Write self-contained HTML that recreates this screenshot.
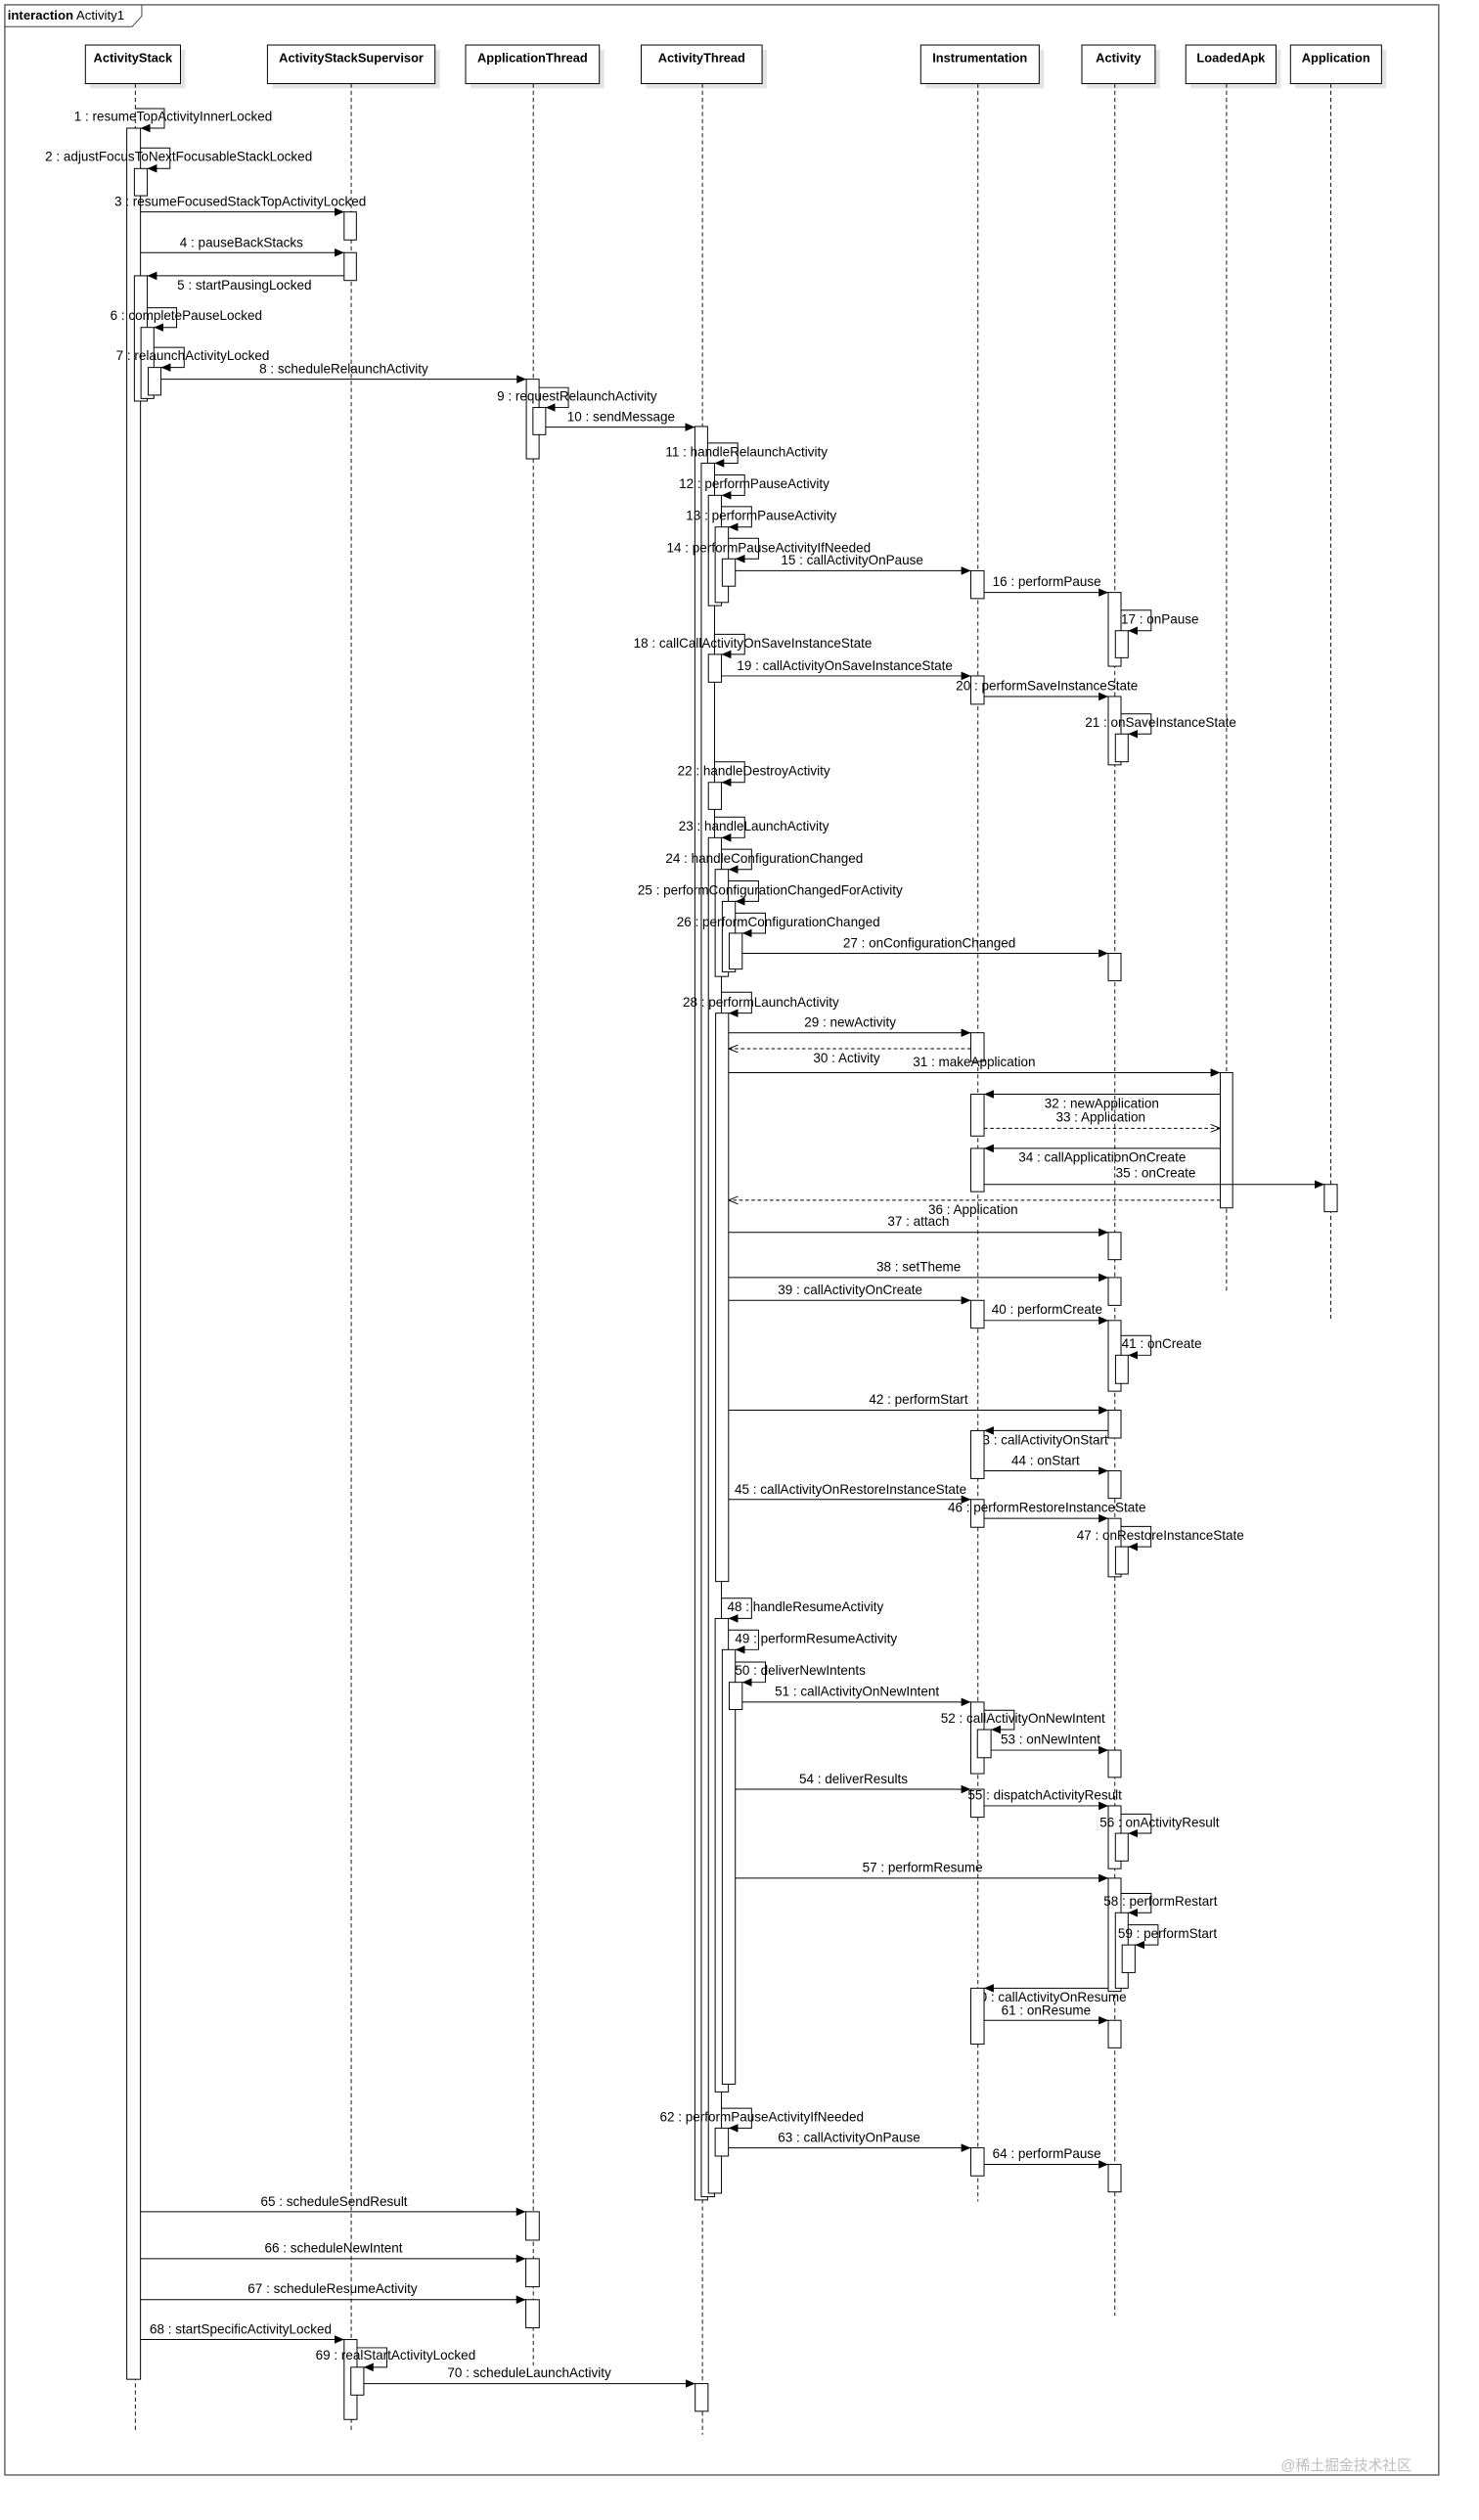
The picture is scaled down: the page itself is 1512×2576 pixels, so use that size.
<!DOCTYPE html>
<html><head><meta charset="utf-8"><style>
html,body{margin:0;padding:0;background:#fff}
svg{display:block}
text{font-family:"Liberation Sans",Arial,sans-serif;font-size:8.2px;fill:#000}
.h{font-weight:bold;font-size:7.8px}
.b{fill:#fff;stroke:#000;stroke-width:0.6}
.ll{stroke:#000;stroke-width:0.55;stroke-dasharray:2.6,1.8;fill:none}
.m{stroke:#000;stroke-width:0.6;fill:none;marker-end:url(#f)}
.r{stroke:#000;stroke-width:0.6;fill:none;stroke-dasharray:2.2,1.6;marker-end:url(#o)}
.sh{fill:#e4e4e4}
</style></head><body>
<svg width="1512" height="2576" viewBox="0 0 918 1567" preserveAspectRatio="none" xmlns="http://www.w3.org/2000/svg">
<defs>
<marker id="f" markerWidth="6" markerHeight="6" refX="6" refY="3" orient="auto" markerUnits="userSpaceOnUse"><path d="M0,0.4 L6,3 L0,5.6 z" fill="#000"/></marker>
<marker id="o" markerWidth="6" markerHeight="6" refX="6" refY="3" orient="auto" markerUnits="userSpaceOnUse"><path d="M0,0.6 L6,3 L0,5.4" fill="none" stroke="#000" stroke-width="0.6"/></marker>
</defs>
<rect x="0" y="0" width="918" height="1567" fill="#fff"/>
<rect x="3" y="3" width="890" height="1536" fill="none" stroke="#666" stroke-width="0.9"/>
<path d="M3,16.6 H82 L88,10 V3" fill="none" stroke="#444" stroke-width="0.6"/>
<text x="4.7" y="12.2" style="font-size:8px"><tspan font-weight="bold">interaction</tspan> Activity1</text>

<g>
<rect class="sh" x="56" y="31" width="59" height="24"/><rect class="b" x="53" y="28" width="59" height="24"/>
<rect class="sh" x="169" y="31" width="104" height="24"/><rect class="b" x="166" y="28" width="104" height="24"/>
<rect class="sh" x="292" y="31" width="83" height="24"/><rect class="b" x="289" y="28" width="83" height="24"/>
<rect class="sh" x="401" y="31" width="75" height="24"/><rect class="b" x="398" y="28" width="75" height="24"/>
<rect class="sh" x="574.5" y="31" width="73.5" height="24"/><rect class="b" x="571.5" y="28" width="73.5" height="24"/>
<rect class="sh" x="674.5" y="31" width="45.5" height="24"/><rect class="b" x="671.5" y="28" width="45.5" height="24"/>
<rect class="sh" x="739" y="31" width="56" height="24"/><rect class="b" x="736" y="28" width="56" height="24"/>
<rect class="sh" x="804" y="31" width="56.5" height="24"/><rect class="b" x="801" y="28" width="56.5" height="24"/>
<text class="h" x="82.5" y="38.5" text-anchor="middle">ActivityStack</text>
<text class="h" x="218" y="38.5" text-anchor="middle">ActivityStackSupervisor</text>
<text class="h" x="330.5" y="38.5" text-anchor="middle">ApplicationThread</text>
<text class="h" x="435.5" y="38.5" text-anchor="middle">ActivityThread</text>
<text class="h" x="608.2" y="38.5" text-anchor="middle">Instrumentation</text>
<text class="h" x="694.2" y="38.5" text-anchor="middle">Activity</text>
<text class="h" x="764" y="38.5" text-anchor="middle">LoadedApk</text>
<text class="h" x="829.2" y="38.5" text-anchor="middle">Application</text>
</g>

<line class="ll" x1="84" y1="52" x2="84" y2="1511.6"/>
<line class="ll" x1="218" y1="52" x2="218" y2="1511.6"/>
<line class="ll" x1="331" y1="52" x2="331" y2="1471"/>
<line class="ll" x1="436" y1="52" x2="436" y2="1514"/>
<line class="ll" x1="607" y1="52" x2="607" y2="1369"/>
<line class="ll" x1="692" y1="52" x2="692" y2="1440"/>
<line class="ll" x1="761.3" y1="52" x2="761.3" y2="804"/>
<line class="ll" x1="826" y1="52" x2="826" y2="820"/>

<text x="605.3" y="898.3">43 : callActivityOnStart</text>
<text x="603.6" y="1244.5">60 : callActivityOnResume</text>

<g class="b">
<rect x="78.7" y="79.7" width="8.5" height="1399.8"/>
<rect x="83.4" y="104.8" width="8" height="16.9"/>
<rect x="83.4" y="171.5" width="8" height="77.9"/>
<rect x="87.5" y="203.6" width="8" height="44.2"/>
<rect x="92" y="228.5" width="7.9" height="17.2"/>
<rect x="213.6" y="131.8" width="7.6" height="17.4"/>
<rect x="213.6" y="157.1" width="7.6" height="17.3"/>
<rect x="213.6" y="1454.8" width="8" height="49.7"/>
<rect x="217.8" y="1472" width="8" height="17.3"/>
<rect x="326.7" y="235.8" width="7.9" height="49.5"/>
<rect x="330.8" y="253.4" width="7.9" height="16.9"/>
<rect x="326.4" y="1375.3" width="8.3" height="17.7"/>
<rect x="326.4" y="1404.5" width="8.3" height="17.5"/>
<rect x="326.4" y="1430" width="8.3" height="17.5"/>
<rect x="431.3" y="265.2" width="7.9" height="1102.8"/>
<rect x="435.3" y="288" width="8.2" height="1078"/>
<rect x="439.7" y="308" width="8.1" height="68.6"/>
<rect x="443.9" y="327.7" width="8.2" height="46.9"/>
<rect x="448.3" y="347.5" width="8.1" height="17"/>
<rect x="439.7" y="406.9" width="8.1" height="17.3"/>
<rect x="439.7" y="486.5" width="8.1" height="16.8"/>
<rect x="439.7" y="520.9" width="8.1" height="842.9"/>
<rect x="443.9" y="540.6" width="8.2" height="66.6"/>
<rect x="448.3" y="560.5" width="8.1" height="43.8"/>
<rect x="452.6" y="580.3" width="8.1" height="22.3"/>
<rect x="444.2" y="630" width="8" height="353.4"/>
<rect x="443.9" y="1006.4" width="8.2" height="294.4"/>
<rect x="448.3" y="1025.8" width="8.1" height="270.2"/>
<rect x="452.6" y="1046.1" width="8.1" height="16.9"/>
<rect x="443.9" y="1323.3" width="8.2" height="17.4"/>
<rect x="431.5" y="1482.2" width="8" height="17.2"/>
<rect x="602.6" y="354.9" width="8.2" height="17.3"/>
<rect x="602.6" y="420.3" width="8.2" height="17.6"/>
<rect x="602.6" y="642.2" width="8.2" height="17.8"/>
<rect x="602.6" y="680.4" width="8.2" height="26"/>
<rect x="602.6" y="714.1" width="8.2" height="26.9"/>
<rect x="602.6" y="808.6" width="8.2" height="17.3"/>
<rect x="602.6" y="889.6" width="8.2" height="29.8"/>
<rect x="602.6" y="932.4" width="8.2" height="17.3"/>
<rect x="602.6" y="1058.4" width="8.2" height="44.5"/>
<rect x="606.7" y="1075.5" width="8.4" height="17.5"/>
<rect x="602.6" y="1112.6" width="8.2" height="17.4"/>
<rect x="602.6" y="1236.3" width="8.2" height="34.8"/>
<rect x="602.6" y="1335.6" width="8.2" height="17.4"/>
<rect x="687.9" y="368.4" width="7.9" height="45.9"/>
<rect x="692.3" y="392.2" width="7.9" height="16.8"/>
<rect x="687.9" y="433.1" width="7.9" height="42.5"/>
<rect x="692.3" y="456.4" width="7.9" height="17.3"/>
<rect x="687.9" y="592.8" width="7.9" height="17.1"/>
<rect x="687.9" y="766.3" width="7.9" height="17"/>
<rect x="687.9" y="794.4" width="7.9" height="17.3"/>
<rect x="687.9" y="821.1" width="7.9" height="44"/>
<rect x="692.4" y="842.7" width="7.8" height="17.6"/>
<rect x="687.9" y="876.9" width="7.9" height="17.3"/>
<rect x="687.9" y="914.6" width="7.9" height="17.1"/>
<rect x="687.9" y="944.2" width="7.9" height="36.3"/>
<rect x="692.4" y="961.8" width="7.8" height="17"/>
<rect x="687.9" y="1088.3" width="7.9" height="16.9"/>
<rect x="687.9" y="1122.9" width="7.9" height="39.1"/>
<rect x="692.3" y="1140" width="7.9" height="17.2"/>
<rect x="687.9" y="1167.9" width="7.9" height="70.4"/>
<rect x="692.3" y="1189.4" width="7.9" height="46.9"/>
<rect x="696.5" y="1209.4" width="8" height="17.2"/>
<rect x="687.9" y="1256.3" width="7.9" height="17.1"/>
<rect x="687.9" y="1345.9" width="7.9" height="17.1"/>
<rect x="757.4" y="667" width="7.7" height="84.1"/>
<rect x="822" y="736.5" width="8" height="17"/>
</g>

<g>
<path class="m" d="M84,67.5 H102 V79.7 H87.2"/>
<path class="m" d="M87.2,92 H105.5 V104.8 H91.4"/>
<path class="m" d="M87.2,131.8 H213.6"/>
<path class="m" d="M87.2,157.1 H213.6"/>
<path class="m" d="M213.6,171.5 H91.4"/>
<path class="m" d="M91.4,191.4 H109.6 V203.6 H95.5"/>
<path class="m" d="M95.5,216 H114.3 V228.5 H99.9"/>
<path class="m" d="M99.9,235.8 H326.7"/>
<path class="m" d="M334.6,241 H352.8 V253.4 H338.7"/>
<path class="m" d="M338.7,265.6 H431.3"/>
<path class="m" d="M439.2,275.5 H457.9 V288 H443.5"/>
<path class="m" d="M443.5,295.3 H462.2 V308 H447.8"/>
<path class="m" d="M447.8,315 H466.5 V327.7 H452.1"/>
<path class="m" d="M452.1,334.7 H470.8 V347.5 H456.4"/>
<path class="m" d="M456.4,354.9 H602.6"/>
<path class="m" d="M610.8,368.4 H687.9"/>
<path class="m" d="M695.8,379.4 H714.5 V392.2 H700.2"/>
<path class="m" d="M443.5,394.4 H462.2 V406.9 H447.8"/>
<path class="m" d="M447.8,420.3 H602.6"/>
<path class="m" d="M610.8,433.1 H687.9"/>
<path class="m" d="M695.8,443.9 H714.5 V456.4 H700.2"/>
<path class="m" d="M443.5,473.7 H462.2 V486.5 H447.8"/>
<path class="m" d="M443.5,508.1 H462.2 V520.9 H447.8"/>
<path class="m" d="M447.8,528.1 H466.5 V540.6 H452.1"/>
<path class="m" d="M452.1,547.8 H470.8 V560.5 H456.4"/>
<path class="m" d="M456.4,567.8 H475.1 V580.3 H460.7"/>
<path class="m" d="M460.7,592.8 H687.9"/>
<path class="m" d="M447.8,617 H466.5 V630 H452.2"/>
<path class="m" d="M452.2,642.2 H602.6"/>
<path class="r" d="M602.6,652.1 H452.2"/>
<path class="m" d="M452.2,667 H757.4"/>
<path class="m" d="M757.4,680.4 H610.8"/>
<path class="r" d="M610.8,701.6 H757.4"/>
<path class="m" d="M757.4,714.1 H610.8"/>
<path class="m" d="M610.8,736.5 H822"/>
<path class="r" d="M757.4,746.3 H452.2"/>
<path class="m" d="M452.2,766.3 H687.9"/>
<path class="m" d="M452.2,794.4 H687.9"/>
<path class="m" d="M452.2,808.6 H602.6"/>
<path class="m" d="M610.8,821.1 H687.9"/>
<path class="m" d="M695.8,830.5 H714.4 V842.7 H700.2"/>
<path class="m" d="M452.2,876.9 H687.9"/>
<path class="m" d="M687.9,889.6 H610.8"/>
<path class="m" d="M610.8,914.6 H687.9"/>
<path class="m" d="M452.2,932.4 H602.6"/>
<path class="m" d="M610.8,944.2 H687.9"/>
<path class="m" d="M695.8,949.2 H714.4 V961.8 H700.2"/>
<path class="m" d="M447.8,993.8 H466.5 V1006.4 H452.1"/>
<path class="m" d="M452.1,1013.6 H470.8 V1025.8 H456.4"/>
<path class="m" d="M456.4,1033.5 H475.1 V1046.1 H460.7"/>
<path class="m" d="M460.7,1058.4 H602.6"/>
<path class="m" d="M610.8,1063.5 H629.5 V1075.5 H615.1"/>
<path class="m" d="M615.1,1088.3 H687.9"/>
<path class="m" d="M456.4,1112.6 H602.6"/>
<path class="m" d="M610.8,1122.9 H687.9"/>
<path class="m" d="M695.8,1128 H714.5 V1140 H700.2"/>
<path class="m" d="M456.4,1167.9 H687.9"/>
<path class="m" d="M695.8,1177.4 H714.5 V1189.4 H700.2"/>
<path class="m" d="M700.2,1196.9 H718.8 V1209.4 H704.5"/>
<path class="m" d="M687.9,1236.3 H610.8"/>
<path class="m" d="M610.8,1256.3 H687.9"/>
<path class="m" d="M447.8,1311 H466.5 V1323.3 H452.1"/>
<path class="m" d="M452.1,1335.6 H602.6"/>
<path class="m" d="M610.8,1345.9 H687.9"/>
<path class="m" d="M87.2,1375.3 H326.4"/>
<path class="m" d="M87.2,1404.5 H326.4"/>
<path class="m" d="M87.2,1430 H326.4"/>
<path class="m" d="M87.2,1454.8 H213.6"/>
<path class="m" d="M221.6,1459.9 H240.1 V1472 H225.8"/>
<path class="m" d="M225.8,1482.2 H431.5"/>
</g>

<g>
<text x="46" y="75">1 : resumeTopActivityInnerLocked</text>
<text x="28" y="100">2 : adjustFocusToNextFocusableStackLocked</text>
<text x="71" y="128">3 : resumeFocusedStackTopActivityLocked</text>
<text x="111.6" y="153.5">4 : pauseBackStacks</text>
<text x="110" y="180">5 : startPausingLocked</text>
<text x="68.4" y="199">6 : completePauseLocked</text>
<text x="72" y="224">7 : relaunchActivityLocked</text>
<text x="161" y="232">8 : scheduleRelaunchActivity</text>
<text x="308.5" y="249">9 : requestRelaunchActivity</text>
<text x="352" y="262">10 : sendMessage</text>
<text x="413.1" y="283.7">11 : handleRelaunchActivity</text>
<text x="421.4" y="303.7">12 : performPauseActivity</text>
<text x="425.8" y="323.4">13 : performPauseActivity</text>
<text x="413.8" y="343.4">14 : performPauseActivityIfNeeded</text>
<text x="484.7" y="351">15 : callActivityOnPause</text>
<text x="616" y="364.5">16 : performPause</text>
<text x="695.8" y="387.9">17 : onPause</text>
<text x="393.2" y="402.8">18 : callCallActivityOnSaveInstanceState</text>
<text x="457.4" y="416.7">19 : callActivityOnSaveInstanceState</text>
<text x="593.3" y="429.2">20 : performSaveInstanceState</text>
<text x="673.5" y="452.1">21 : onSaveInstanceState</text>
<text x="420.5" y="482.1">22 : handleDestroyActivity</text>
<text x="421.2" y="516.5">23 : handleLaunchActivity</text>
<text x="413.1" y="536.5">24 : handleConfigurationChanged</text>
<text x="395.8" y="556.2">25 : performConfigurationChangedForActivity</text>
<text x="420" y="576.2">26 : performConfigurationChanged</text>
<text x="523.3" y="589.2">27 : onConfigurationChanged</text>
<text x="423.8" y="626">28 : performLaunchActivity</text>
<text x="499.2" y="638.4">29 : newActivity</text>
<text x="504.8" y="660.7">30 : Activity</text>
<text x="566.6" y="663.1">31 : makeApplication</text>
<text x="648.3" y="688.9">32 : newApplication</text>
<text x="655.4" y="697.5">33 : Application</text>
<text x="632.2" y="722.3">34 : callApplicationOnCreate</text>
<text x="692.5" y="732.1">35 : onCreate</text>
<text x="576.2" y="755">36 : Application</text>
<text x="550.9" y="762.2">37 : attach</text>
<text x="544" y="790.6">38 : setTheme</text>
<text x="482.8" y="804.7">39 : callActivityOnCreate</text>
<text x="615.5" y="817">40 : performCreate</text>
<text x="696.2" y="838.4">41 : onCreate</text>
<text x="539.4" y="872.8">42 : performStart</text>
<text x="627.8" y="910.8">44 : onStart</text>
<text x="456" y="928.8">45 : callActivityOnRestoreInstanceState</text>
<text x="588.3" y="940.1">46 : performRestoreInstanceState</text>
<text x="668.3" y="957.4">47 : onRestoreInstanceState</text>
<text x="451.4" y="1001.8">48 : handleResumeActivity</text>
<text x="456.2" y="1021.8">49 : performResumeActivity</text>
<text x="456.2" y="1041.5">50 : deliverNewIntents</text>
<text x="480.9" y="1054.5">51 : callActivityOnNewIntent</text>
<text x="583.9" y="1071.2">52 : callActivityOnNewIntent</text>
<text x="621.1" y="1084.2">53 : onNewIntent</text>
<text x="496" y="1108.8">54 : deliverResults</text>
<text x="600.7" y="1119">55 : dispatchActivityResult</text>
<text x="682.6" y="1136">56 : onActivityResult</text>
<text x="535.3" y="1164.1">57 : performResume</text>
<text x="685" y="1185.1">58 : performRestart</text>
<text x="693.9" y="1205.1">59 : performStart</text>
<text x="621.5" y="1252.7">61 : onResume</text>
<text x="409.5" y="1319">62 : performPauseActivityIfNeeded</text>
<text x="482.8" y="1331.8">63 : callActivityOnPause</text>
<text x="616" y="1341.8">64 : performPause</text>
<text x="161.8" y="1371.7">65 : scheduleSendResult</text>
<text x="164.2" y="1400.6">66 : scheduleNewIntent</text>
<text x="153.8" y="1426">67 : scheduleResumeActivity</text>
<text x="92.9" y="1451">68 : startSpecificActivityLocked</text>
<text x="195.9" y="1467.3">69 : realStartActivityLocked</text>
<text x="277.7" y="1478.1">70 : scheduleLaunchActivity</text>
</g>

<text x="795" y="1536" style="font-family:'Liberation Sans','Noto Sans CJK SC',sans-serif;font-size:9px;fill:#bdbdbd">@稀土掘金技术社区</text>
</svg>
</body></html>
